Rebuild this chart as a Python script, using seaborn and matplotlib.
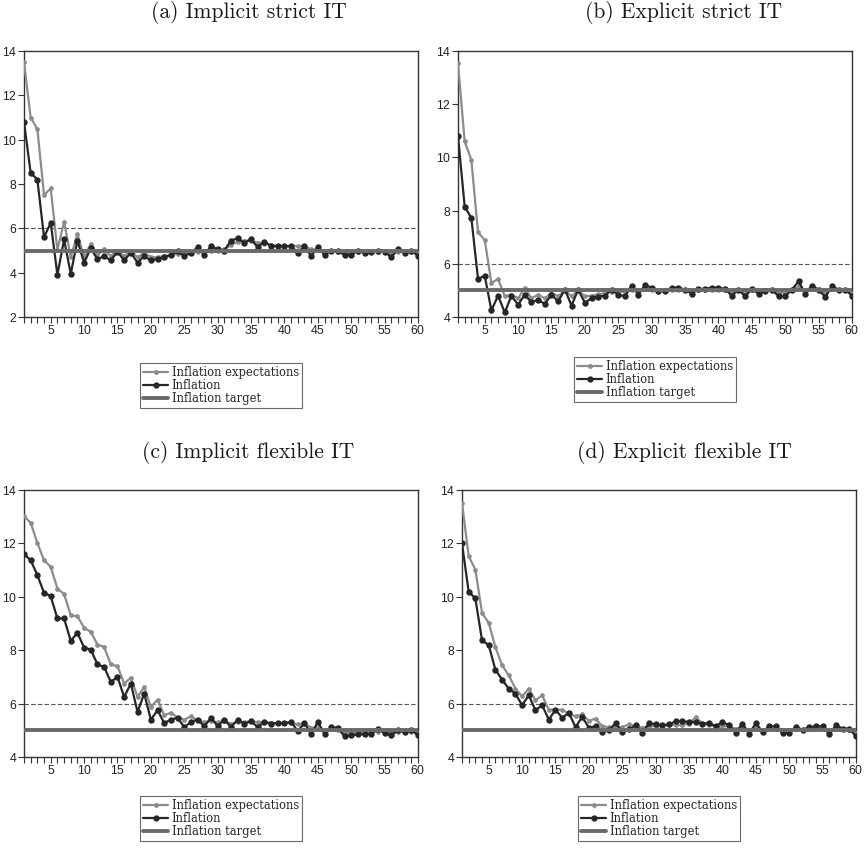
import numpy as np
import pandas as pd
import matplotlib
matplotlib.use("Agg")
import matplotlib.pyplot as plt
from matplotlib.lines import Line2D
import seaborn as sns

# ---------------------------------------------------------------- data
periods = list(range(1, 61))

a_expectations = [13.5, 11.0, 10.48, 7.5, 7.8, 5.02, 6.3, 4.7, 5.75, 4.7,
                  5.3, 4.8, 5.05, 4.75, 5.0, 4.75, 4.95, 4.7, 4.9, 4.7,
                  4.7, 4.75, 4.8, 4.85, 4.9, 4.95, 4.95, 5.0, 5.0, 5.0,
                  5.05, 5.25, 5.4, 5.45, 5.45, 5.35, 5.3, 5.25, 5.2, 5.2,
                  5.2, 5.2, 5.2, 5.05, 5.05, 5.0, 5.0, 4.95, 4.9, 4.9,
                  4.95, 4.95, 4.95, 4.95, 4.95, 4.9, 4.95, 4.95, 4.95, 4.9]
a_inflation = [10.8, 8.5, 8.2, 5.6, 6.25, 3.9, 5.5, 3.95, 5.45, 4.45,
               5.1, 4.6, 4.75, 4.55, 4.95, 4.55, 4.9, 4.45, 4.75, 4.55,
               4.62, 4.7, 4.8, 4.97, 4.75, 4.9, 5.14, 4.8, 5.2, 5.05,
               5.0, 5.45, 5.55, 5.35, 5.5, 5.15, 5.4, 5.2, 5.2, 5.2,
               5.2, 4.9, 5.2, 4.75, 5.15, 4.8, 5.0, 4.97, 4.8, 4.8,
               5.0, 4.87, 4.92, 4.97, 4.95, 4.7, 5.05, 4.87, 5.0, 4.75]

b_expectations = [13.54, 10.6, 9.9, 7.18, 6.9, 5.28, 5.43, 4.78, 4.84, 4.7,
                  5.09, 4.7, 4.84, 4.7, 4.9, 4.78, 5.0, 4.78, 5.0, 4.78,
                  4.8, 4.85, 4.9, 4.95, 4.95, 4.95, 5.0, 5.0, 5.05, 5.0,
                  4.95, 5.0, 5.0, 5.0, 5.0, 4.95, 5.0, 5.0, 5.0, 5.0,
                  5.0, 4.9, 5.0, 4.9, 5.0, 4.95, 5.0, 5.0, 4.9, 4.9,
                  5.0, 5.15, 4.95, 5.05, 5.0, 4.9, 5.05, 5.0, 5.0, 4.9]
b_inflation = [10.8, 8.15, 7.72, 5.43, 5.55, 4.25, 4.8, 4.17, 4.8, 4.46,
               4.84, 4.55, 4.65, 4.49, 4.84, 4.59, 5.03, 4.43, 5.03, 4.53,
               4.71, 4.77, 4.8, 5.03, 4.84, 4.78, 5.18, 4.84, 5.2, 5.1,
               4.97, 4.97, 5.1, 5.1, 5.03, 4.88, 5.06, 5.06, 5.1, 5.1,
               5.05, 4.8, 5.03, 4.78, 5.05, 4.88, 4.97, 5.03, 4.78, 4.78,
               5.03, 5.34, 4.88, 5.18, 5.03, 4.75, 5.15, 5.03, 5.03, 4.8]

c_expectations = [13.02, 12.77, 12.02, 11.37, 11.12, 10.31, 10.1, 9.31, 9.27, 8.84,
                  8.69, 8.21, 8.12, 7.47, 7.4, 6.75, 6.97, 6.25, 6.62, 5.87,
                  6.15, 5.56, 5.66, 5.47, 5.4, 5.52, 5.37, 5.3, 5.35, 5.3,
                  5.35, 5.25, 5.3, 5.3, 5.35, 5.3, 5.3, 5.28, 5.27, 5.27,
                  5.27, 5.22, 5.25, 5.1, 5.1, 5.0, 5.05, 5.0, 4.9, 4.9,
                  4.9, 4.92, 4.93, 4.95, 4.93, 4.9, 4.95, 4.95, 4.95, 4.9]
c_inflation = [11.6, 11.37, 10.81, 10.15, 10.02, 9.19, 9.19, 8.35, 8.65, 8.1,
               8.02, 7.47, 7.37, 6.81, 7.0, 6.25, 6.75, 5.69, 6.37, 5.4,
               5.75, 5.27, 5.4, 5.47, 5.12, 5.31, 5.4, 5.15, 5.47, 5.15,
               5.4, 5.12, 5.4, 5.25, 5.34, 5.12, 5.31, 5.25, 5.27, 5.27,
               5.31, 4.97, 5.27, 4.85, 5.31, 4.87, 5.12, 5.09, 4.77, 4.81,
               4.85, 4.85, 4.87, 5.06, 4.9, 4.81, 5.0, 4.94, 5.02, 4.81]

d_expectations = [13.52, 11.52, 11.02, 9.4, 9.02, 8.12, 7.44, 7.06, 6.56, 6.27,
                  6.56, 6.12, 6.31, 5.77, 5.77, 5.77, 5.62, 5.52, 5.6, 5.35,
                  5.44, 5.15, 5.12, 5.12, 5.12, 5.22, 5.15, 5.1, 5.15, 5.15,
                  5.15, 5.2, 5.2, 5.2, 5.25, 5.5, 5.25, 5.2, 5.15, 5.15,
                  5.15, 5.05, 5.1, 5.0, 5.1, 5.0, 5.05, 5.05, 5.0, 5.0,
                  5.05, 5.0, 5.05, 5.05, 5.05, 4.95, 5.05, 5.05, 5.0, 4.9]
d_inflation = [12.0, 10.19, 9.94, 8.37, 8.19, 7.27, 6.9, 6.56, 6.37, 5.94,
               6.31, 5.75, 5.94, 5.4, 5.77, 5.47, 5.65, 5.12, 5.5, 5.1,
               5.15, 4.94, 5.0, 5.27, 4.94, 5.03, 5.19, 4.9, 5.27, 5.22,
               5.19, 5.22, 5.34, 5.34, 5.31, 5.31, 5.25, 5.27, 5.15, 5.31,
               5.19, 4.9, 5.25, 4.87, 5.27, 4.94, 5.15, 5.15, 4.9, 4.9,
               5.12, 5.02, 5.12, 5.15, 5.15, 4.85, 5.19, 5.06, 5.06, 4.77]

inflation_target = 5.0
tolerance_band = 6.0

titles = ["(a) Implicit strict IT", "(b) Explicit strict IT",
          "(c) Implicit flexible IT", "(d) Explicit flexible IT"]
series_labels = ["Inflation expectations", "Inflation", "Inflation target"]
y_ranges = [(2, 14), (4, 14), (4, 14), (4, 14)]
x_tick_labels = [5, 10, 15, 20, 25, 30, 35, 40, 45, 50, 55, 60]

panels = [(a_expectations, a_inflation), (b_expectations, b_inflation),
          (c_expectations, c_inflation), (d_expectations, d_inflation)]

# ---------------------------------------------------------------- style
sns.set_theme(style="white")
plt.rcParams["font.family"] = ["Liberation Sans", "DejaVu Sans"]
plt.rcParams["axes.formatter.use_mathtext"] = True

EXP_COLOR = "#8c8c8c"
INF_COLOR = "#262626"
TGT_COLOR = "#6a6a6a"
SPINE_COLOR = "#333333"

W, H = 865, 848
fig = plt.figure(figsize=(W / 100, H / 100), dpi=100)


def px_axes(left, top, right, bottom):
    return fig.add_axes([left / W, 1 - bottom / H, (right - left) / W, (bottom - top) / H])


boxes = [(24, 51, 418, 317), (458, 51, 852, 317),
         (24, 490, 418, 757), (462, 490, 856, 757)]
title_pos = [(249, 13), (684, 13), (248, 453), (684, 453)]
legend_gap = [0.15, 0.128, 0.124, 0.124]

for k, ((exp_vals, inf_vals), box) in enumerate(zip(panels, boxes)):
    ax = px_axes(*box)
    df = pd.DataFrame({"period": periods * 2,
                       "value": exp_vals + inf_vals,
                       "series": [series_labels[0]] * 60 + [series_labels[1]] * 60})
    sns.lineplot(data=df[df.series == series_labels[0]], x="period", y="value",
                 color=EXP_COLOR, lw=1.6, marker="o", markersize=3.4,
                 markeredgewidth=0, ax=ax, zorder=3)
    sns.lineplot(data=df[df.series == series_labels[1]], x="period", y="value",
                 color=INF_COLOR, lw=1.6, marker="o", markersize=4.6,
                 markeredgewidth=0, ax=ax, zorder=4)
    ax.axhline(inflation_target, color=TGT_COLOR, lw=2.8, zorder=5)
    ax.axhline(tolerance_band, color="#555555", lw=0.8, ls=(0, (4, 2)), zorder=2)

    ax.set_xlim(1, 60)
    ax.set_ylim(*y_ranges[k])
    ax.set_yticks(np.arange(y_ranges[k][0], y_ranges[k][1] + 1, 2))
    ax.set_xticks(x_tick_labels)
    ax.set_xticks(periods, minor=True)
    ax.set_xlabel("")
    ax.set_ylabel("")
    ax.tick_params(axis="both", which="both", direction="out", length=4,
                   width=0.8, color=SPINE_COLOR, labelsize=8.8, pad=1,
                   labelcolor="#222222")
    ax.tick_params(axis="x", which="both", bottom=True, top=False)
    ax.tick_params(axis="y", left=True, right=False)
    for sp in ax.spines.values():
        sp.set_visible(True)
        sp.set_color(SPINE_COLOR)
        sp.set_linewidth(1.0)
    if ax.get_legend() is not None:
        ax.get_legend().remove()

    handles = [Line2D([], [], color=EXP_COLOR, lw=1.6, marker="o", markersize=2.5),
               Line2D([], [], color=INF_COLOR, lw=1.6, marker="o", markersize=3.5),
               Line2D([], [], color=TGT_COLOR, lw=2.8)]
    leg = ax.legend(handles, series_labels, loc="upper center",
                    bbox_to_anchor=(0.5, -legend_gap[k]), frameon=True, fancybox=False,
                    handlelength=2.2, handletextpad=0.3, borderpad=0.25,
                    labelspacing=0.02, prop={"family": "DejaVu Serif", "size": 8.3})
    leg.get_frame().set_edgecolor("#444444")
    leg.get_frame().set_linewidth(0.8)

    fig.text(title_pos[k][0] / W, 1 - title_pos[k][1] / H, titles[k],
             ha="center", va="center", fontsize=15.5, family="cmr10",
             color="#1a1a1a")

fig.savefig("out.png", dpi=100)
